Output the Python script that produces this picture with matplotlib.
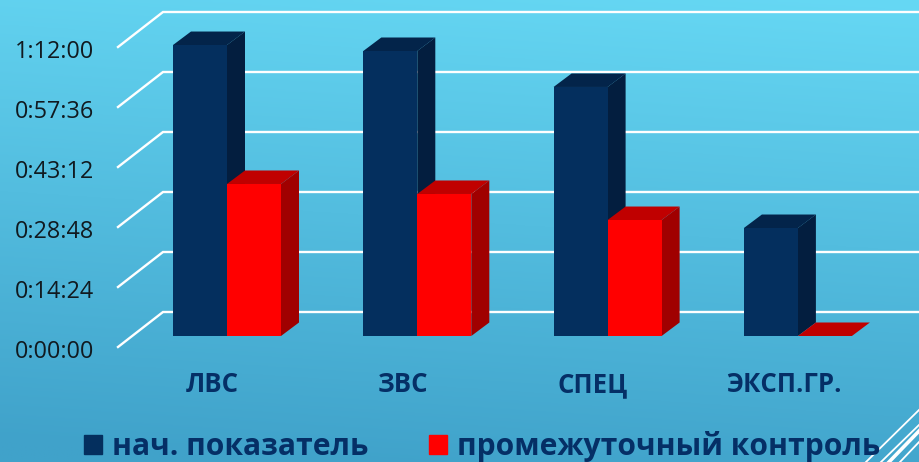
#!/usr/bin/env python3
"""Bar chart with fake 3D depth: time per group, start vs. midpoint check."""
import numpy as np
import matplotlib
matplotlib.use("Agg")
import matplotlib.pyplot as plt
from matplotlib.patches import Polygon, Patch

W, H = 920, 462

# values in seconds
groups = ["ЛВС", "ЗВС", "СПЕЦ", "ЭКСП.ГР."]
start_vals = [4190, 4104, 3586, 1555]
check_vals = [2189, 2045, 1670, 0]
tick_vals = [0, 864, 1728, 2592, 3456, 4320]
tick_labels = ["0:00:00", "0:14:24", "0:28:48", "0:43:12", "0:57:36", "1:12:00"]
legend_labels = ["нач. показатель", "промежуточный контроль"]

NAVY, NAVY_TOP, NAVY_SIDE = "#042f5e", "#03244a", "#031e3f"
RED, RED_TOP, RED_SIDE = "#ff0000", "#c00000", "#a00000"
TEXT = "#052f66"

SEC_PX = 14.4          # seconds per pixel
GROUP_PX = 190.3       # pixels between groups
ZERO_X, ZERO_Y = 227, 336
BAR = 54 / GROUP_PX
DX, DY = 18 / GROUP_PX, 13.5 * SEC_PX

plt.rcParams["font.family"] = ["Open Sans", "DejaVu Sans"]

fig = plt.figure(figsize=(W / 100, H / 100), dpi=100)
ax = fig.add_axes([0, 0, 1, 1])
ax.set_xlim(-ZERO_X / GROUP_PX, (W - ZERO_X) / GROUP_PX)
ax.set_ylim(-(H - ZERO_Y) * SEC_PX, ZERO_Y * SEC_PX)
ax.axis("off")

# background gradient, light top right to darker bottom left
yy, xx = np.mgrid[0:1:200j, 0:1:200j]
t = np.clip(yy * 0.92 + (1 - xx) * 0.12, 0, 1)
top, bottom = np.array([0x66, 0xd8, 0xf4]), np.array([0x40, 0xa2, 0xca])
grad = top + (bottom - top) * t[..., None]
ax.imshow(grad / 255, extent=[*ax.get_xlim(), *ax.get_ylim()], origin="upper",
          aspect="auto", zorder=0)

# corner decoration
to_x = lambda px: (px - ZERO_X) / GROUP_PX
to_y = lambda py: (ZERO_Y - py) * SEC_PX
for x0, y0, x1, y1, lw in [(920, 409, 866, 462, 1.3), (920, 424, 881, 462, 1.3),
                           (920, 430, 889, 462, 2.6), (920, 441, 900, 462, 1.3)]:
    ax.plot([to_x(x0), to_x(x1)], [to_y(y0), to_y(y1)], color="white", lw=lw, zorder=1)

# walls: floor line comes forward from the back wall
x_front, x_back, x_end = to_x(118), to_x(163), to_x(W)
for val, lab in zip(tick_vals, tick_labels):
    y_front = val - 11 * SEC_PX
    y_back = val + 24 * SEC_PX
    ax.plot([x_front, x_back, x_end], [y_front, y_back, y_back], color="white",
            lw=1.7, solid_joinstyle="miter", zorder=1)
    ax.text(to_x(94), y_front - 5 * SEC_PX, lab, ha="right", va="center", fontsize=16.8,
            color="#111a20", zorder=5)


def box(x, val, front, ctop, cside, z):
    ax.bar(x, val, BAR, align="edge", color=front, zorder=z + 0.2)
    ax.add_patch(Polygon([(x, val), (x + DX, val + DY), (x + BAR + DX, val + DY), (x + BAR, val)],
                         closed=True, fc=ctop, ec="none", zorder=z))
    ax.add_patch(Polygon([(x + BAR, 0), (x + BAR + DX, DY), (x + BAR + DX, val + DY), (x + BAR, val)],
                         closed=True, fc=cside, ec="none", zorder=z))


for i, (a, b) in enumerate(zip(start_vals, check_vals)):
    box(i - BAR, a, NAVY, NAVY_TOP, NAVY_SIDE, 2)
    box(i, b, RED, RED_TOP, RED_SIDE, 3)
    ax.text(i - 14.5 / GROUP_PX, to_y(392), groups[i], ha="center", va="baseline",
            fontsize=18.5, fontweight="bold", color=TEXT, zorder=5)

handles = [Patch(color=NAVY), Patch(color=RED)]
ax.legend(handles, legend_labels, ncol=2, loc="lower left", bbox_to_anchor=(84 / W, 0.0),
          frameon=False, handlelength=0.59, handleheight=0.59,
          handletextpad=0.33, columnspacing=2.05, borderpad=0, borderaxespad=0,
          prop={"size": 21.6, "weight": "bold"}, labelcolor=TEXT)

fig.savefig("out.png", dpi=100)
